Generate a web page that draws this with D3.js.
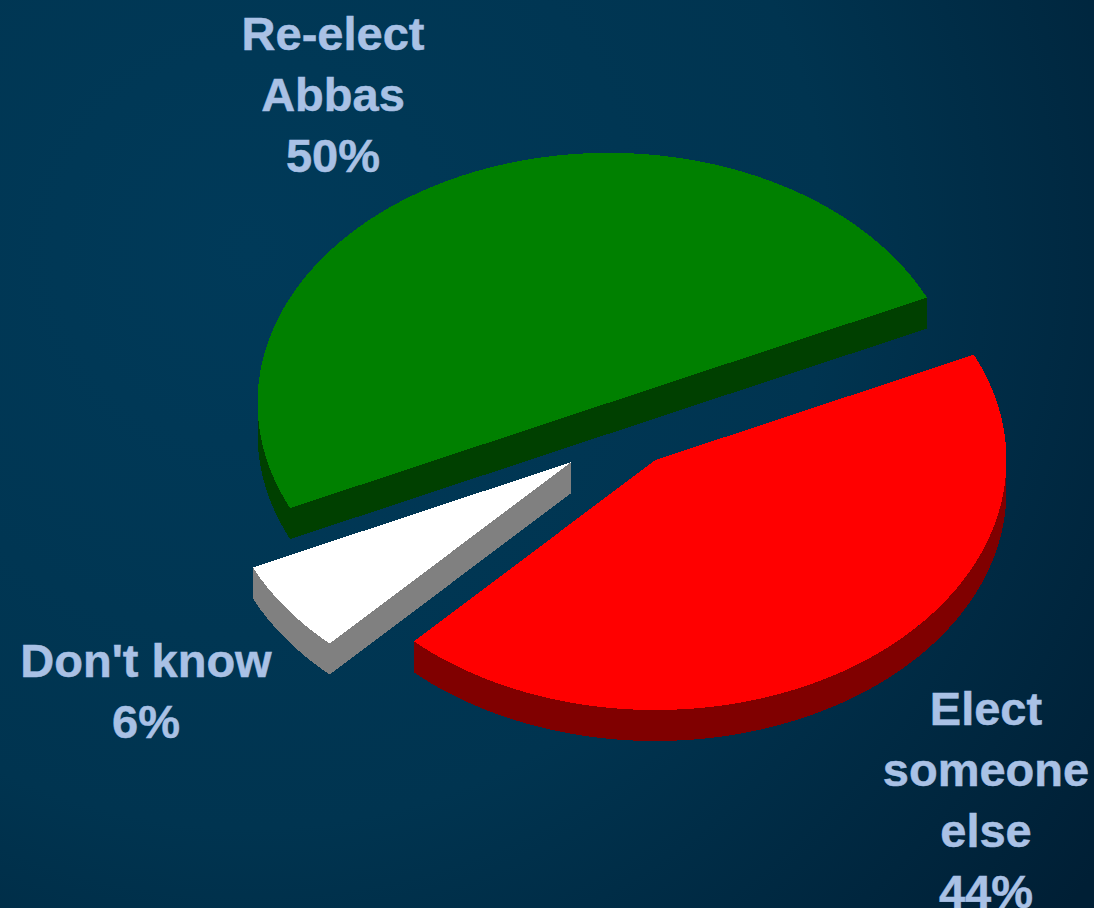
<!DOCTYPE html>
<html>
<head>
<meta charset="utf-8">
<script src="https://cdn.jsdelivr.net/npm/d3@7"></script>
<style>
  html, body { margin: 0; padding: 0; background: #003654; overflow: hidden; }
  .sliceLabel { font-family: "Liberation Sans", Arial, sans-serif; font-weight: bold; font-size: 47px; fill: #a9c1e5; stroke: #a9c1e5; stroke-width: 0.5px; text-anchor: middle; }
</style>
</head>
<body>
<svg id="chart" width="1094" height="908"></svg>
<script>
const categories = ["Elect someone else", "Don't know", "Re-elect Abbas"]
const values = [44, 6, 50]
const topColours = ["#ff0000", "#ffffff", "#008000"]
const sideColours = ["#800000", "#808080", "#004000"]
const explode = [0.133, 0.2, 0.133]
const labelLines = [["Elect", "someone", "else", "44%"], ["Don't know", "6%"], ["Re-elect", "Abbas", "50%"]]
const labelX = [986, 146, 333]
const labelY = [725, 677, 50]

const width = 1094, height = 908
const cx = 628.2, cy = 433, rx = 351, ry = 250, depth = 31
const lineStep = 61
const startDeg = 65.1

const svg = d3.select("#chart")

const grad = svg.append("defs").append("radialGradient")
  .attr("id", "bg")
  .attr("gradientUnits", "userSpaceOnUse")
  .attr("cx", 250).attr("cy", 250).attr("r", 1050)
grad.append("stop").attr("offset", "0%").attr("stop-color", "#003a59")
grad.append("stop").attr("offset", "55%").attr("stop-color", "#003450")
grad.append("stop").attr("offset", "100%").attr("stop-color", "#001f35")

svg.append("rect").attr("width", width).attr("height", height).attr("fill", "url(#bg)")

const start = startDeg * Math.PI / 180
const pie = d3.pie().sort(null).startAngle(start).endAngle(start + 2 * Math.PI)
const slices = pie(values)

// tilted view: angle is clockwise from the top of the ellipse
const project = (a, o, r = 1) => [o.x + r * rx * Math.sin(a), o.y - r * ry * Math.cos(a)]
const line = d3.line()

const arcPoints = (a0, a1, o) => {
  const n = Math.max(2, Math.ceil((a1 - a0) * 90))
  return d3.range(n + 1).map(i => project(a0 + (a1 - a0) * i / n, o))
}

const drop = pts => pts.map(p => [p[0], p[1] + depth]).reverse()

slices.forEach((d, i) => {
  const mid = (d.startAngle + d.endAngle) / 2
  const centre = { x: cx + explode[i] * rx * Math.sin(mid), y: cy - explode[i] * ry * Math.cos(mid) }
  d.centre = centre
  d.colour = topColours[i]
  d.side = sideColours[i]
})

const g = svg.append("g").attr("shape-rendering", "crispEdges")

// walls first, tops afterwards
slices.forEach(d => {
  const o = d.centre
  const twoPi = 2 * Math.PI
  // the outer wall only shows on the front half of the ellipse
  for (let k = 0; k < 2; k++) {
    const lo = Math.max(d.startAngle, Math.PI / 2 + k * twoPi)
    const hi = Math.min(d.endAngle, 3 * Math.PI / 2 + k * twoPi)
    if (hi > lo) {
      const pts = arcPoints(lo, hi, o)
      g.append("path").attr("d", line(pts.concat(drop(pts))) + "Z").attr("fill", d.side)
    }
  }
  // cut faces, when they look down towards the viewer
  ;[d.startAngle, d.endAngle].forEach((a, k) => {
    const edge = project(a, o)
    const facing = k === 0 ? Math.sin(a) < 0 : Math.sin(a) > 0
    if (facing) {
      const pts = [[o.x, o.y], edge]
      g.append("path").attr("d", line(pts.concat(drop(pts))) + "Z").attr("fill", d.side)
    }
  })
})

slices.forEach(d => {
  const pts = [[d.centre.x, d.centre.y]].concat(arcPoints(d.startAngle, d.endAngle, d.centre))
  g.append("path").attr("d", line(pts) + "Z").attr("fill", d.colour)
})

// labels
labelLines.forEach((lines, i) => {
  const t = svg.append("text").attr("class", "sliceLabel")
  lines.forEach((s, j) => {
    t.append("tspan").attr("x", labelX[i]).attr("y", labelY[i] + j * lineStep).text(s)
  })
})
</script>
</body>
</html>
